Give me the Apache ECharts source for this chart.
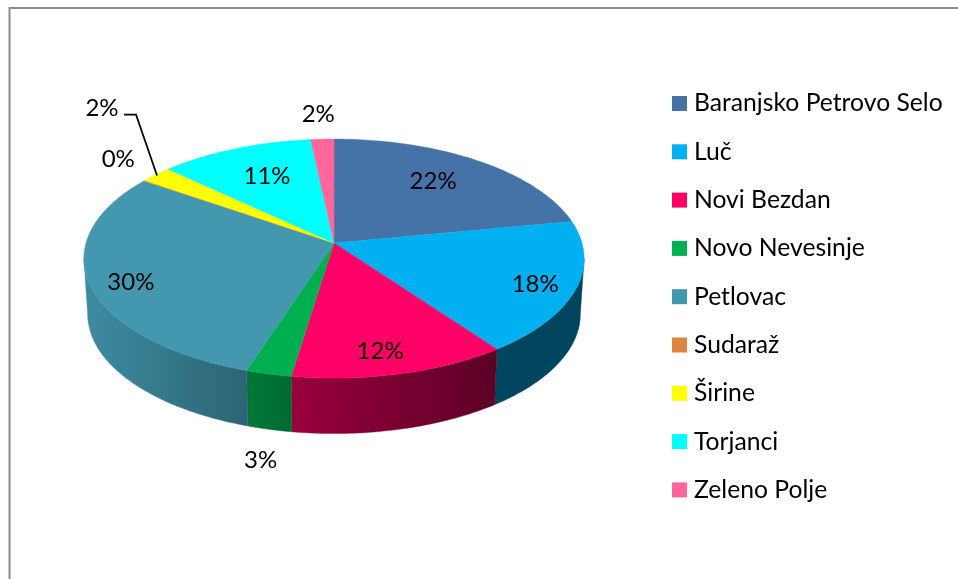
<!DOCTYPE html>
<html>
<head>
<meta charset="utf-8">
<style>html,body{margin:0;padding:0;background:#fff}#c{width:958px;height:579px}</style>
<script src="https://cdn.jsdelivr.net/npm/echarts@6/dist/echarts.min.js"></script>
</head>
<body>
<div id="c"></div>
<script>
var categories = ['Baranjsko Petrovo Selo','Luč','Novi Bezdan','Novo Nevesinje','Petlovac','Sudaraž','Širine','Torjanci','Zeleno Polje'];
var values = [22, 18, 12.4, 2.6, 29.6, 0.1, 2.3, 11.3, 1.7];
var colors = ['#4573A7','#00B0F0','#FF0066','#00B050','#4398B0','#DE843E','#FFFF00','#00FFFF','#FF6699'];
// wall shading, left and right brightness of each visible side wall
var wallShade = [[.5,.5],[.39,.39],[.6,.36],[.68,.6],[.92,.66],[.9,.9],[.9,.9],[.9,.9],[.9,.9]];
// label offset from the rim point at the slice's mid angle
var labelNudge = [[-44.6,21],[-41,-4],[-21,-22.5],[-8,86],[42,0],[-26,-21],[-54,-66],[32,27],[-4,-25]];

var FONT = 'Lato';
var CX = 334, AY = 243, RX = 248, RY = 117.5, K = 0.13, DEPTH = 55.5, BOTTOM_X = 0.985;
var total = values.reduce(function (a, b) { return a + b; }, 0);
var starts = [];
values.reduce(function (acc, v, i) { starts[i] = acc; return acc + v; }, 0);

function project(deg, bottom) {
  var t = deg * Math.PI / 180, s = Math.sin(t), c = Math.cos(t), w = 1 + K * c;
  return [CX + (bottom ? BOTTOM_X : 1) * RX * s / w, AY - RY * c / w + (bottom ? DEPTH : 0)];
}
function arc(a, b, bottom) {
  var n = Math.max(2, Math.ceil(Math.abs(b - a))), pts = [];
  for (var i = 0; i <= n; i++) pts.push(project(a + (b - a) * i / n, bottom));
  return pts;
}
function shade(hex, f) {
  var n = parseInt(hex.slice(1), 16);
  return 'rgb(' + [(n >> 16) & 255, (n >> 8) & 255, n & 255].map(function (v) { return Math.round(v * f); }).join(',') + ')';
}
var LEFT_LIMIT = 262.5, RIGHT_LIMIT = 97.5;

function renderSlice(i) {
  return function (params, api) {
    var v = api.value(0);
    var a = starts[i] / total * 360, b = (starts[i] + v) / total * 360, mid = (a + b) / 2;
    var kids = [];
    var wa = Math.max(a, RIGHT_LIMIT), wb = Math.min(b, LEFT_LIMIT);
    if (wb > wa) {
      var poly = arc(wa, wb, false).concat(arc(wb, wa, true));
      var xs = poly.map(function (p) { return p[0]; });
      var minX = Math.min.apply(null, xs), maxX = Math.max.apply(null, xs);
      var fill = new echarts.graphic.LinearGradient(minX, 0, maxX, 0, [
        { offset: 0, color: shade(colors[i], wallShade[i][0]) },
        { offset: 1, color: shade(colors[i], wallShade[i][1]) }
      ], true);
      kids.push({ type: 'polygon', shape: { points: poly }, z2: 1, style: { fill: fill, stroke: fill, lineWidth: 0.4 } });
    }
    var top = [[CX, AY]].concat(arc(a, b, false));
    kids.push({ type: 'polygon', shape: { points: top }, z2: 2, style: { fill: colors[i], stroke: colors[i], lineWidth: 0.4 } });
    var rim = project(mid, false);
    kids.push({ type: 'text', z2: 5, style: {
      x: rim[0] + labelNudge[i][0], y: rim[1] + labelNudge[i][1],
      text: Math.round(v) + '%', fill: '#000', font: '24px ' + FONT, align: 'center', verticalAlign: 'middle' } });
    if (categories[i] === 'Širine') {
      kids.push({ type: 'polyline', z2: 4, shape: { points: [
        [rim[0] + 1, rim[1] + 1], [rim[0] - 20, rim[1] - 60], [rim[0] - 32, rim[1] - 60]] },
        style: { stroke: '#000', lineWidth: 1.8, fill: 'none' } });
    }
    return { type: 'group', children: kids };
  };
}

var chart = echarts.init(document.getElementById('c'), null, { renderer: 'canvas' });
chart.setOption({
  animation: false,
  color: colors,
  graphic: [{ type: 'rect', shape: { x: 9.5, y: 8, width: 1000, height: 1000 }, style: { fill: 'none', stroke: '#8c8c8c', lineWidth: 2 }, silent: true }],
  legend: {
    orient: 'vertical', left: 667, top: 83.5, itemWidth: 15, itemHeight: 15, itemGap: 18.3,
    icon: 'rect', selectedMode: false,
    data: categories,
    textStyle: { fontFamily: FONT, fontSize: 24.7, color: '#000', lineHeight: 30, padding: [0, 0, 0, 2] }
  },
  series: categories.map(function (name, i) {
    return { type: 'custom', name: name, coordinateSystem: 'none', silent: true, data: [[values[i]]], renderItem: renderSlice(i) };
  })
});
</script>
</body>
</html>
